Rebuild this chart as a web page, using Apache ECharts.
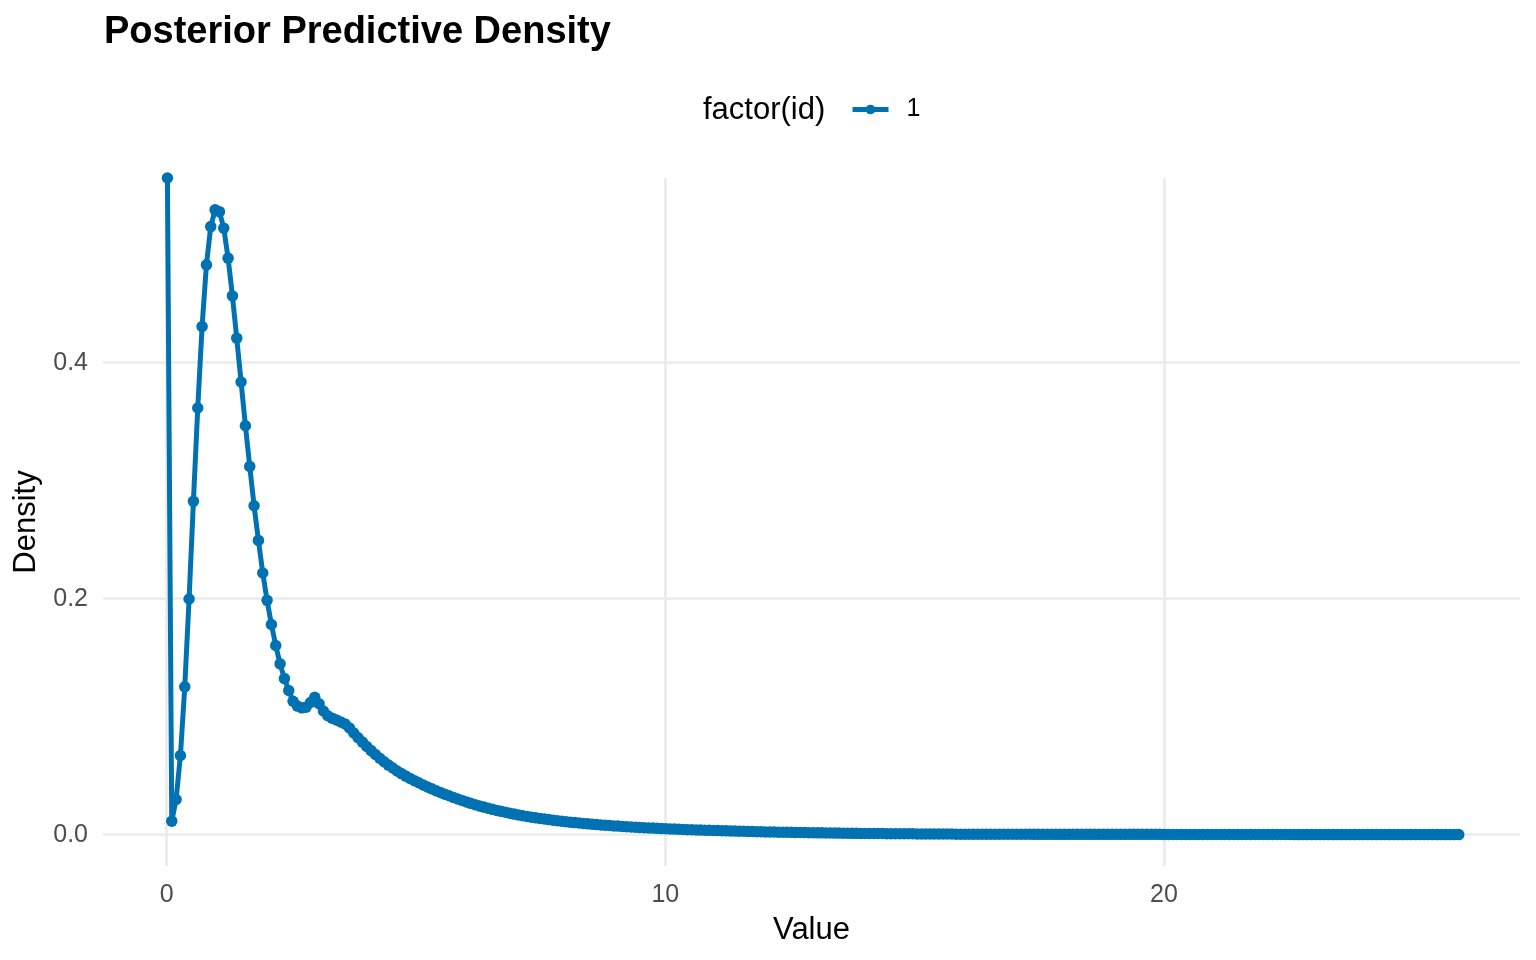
<!DOCTYPE html>
<html>
<head>
<meta charset="utf-8">
<script src="https://cdn.jsdelivr.net/npm/echarts@6/dist/echarts.min.js"></script>
<style>html,body{margin:0;padding:0;background:#fff}#chart{width:1536px;height:960px}</style>
</head>
<body>
<div id="chart"></div>
<script>
// Evaluation grid of the density (evenly spaced sample positions)
const X_START = 0.015;
const X_STEP = 0.0869;
// Density values (first value is Inf, drawn at the panel top edge)
const densityHead = [
  0.5565, 0.0115, 0.0299, 0.0671, 0.1253, 0.1998, 0.2825, 0.3616, 0.4307, 0.4829,
  0.5153, 0.5295, 0.5280, 0.5140, 0.4886, 0.4566, 0.4208, 0.3836, 0.3466, 0.3121,
  0.2788, 0.2494, 0.2218, 0.1986, 0.1781, 0.1603, 0.1448, 0.1323, 0.1222, 0.1131,
  0.1090, 0.1075, 0.1080, 0.1120, 0.1165, 0.1110, 0.1048, 0.1008, 0.0988, 0.0972,
  0.0955, 0.0938, 0.0905, 0.0862, 0.0822, 0.0785, 0.0748, 0.0713, 0.0680, 0.0648,
  0.0618, 0.0590, 0.0565, 0.0540, 0.0518, 0.0497, 0.0477, 0.0458, 0.0440, 0.0422,
  0.0405, 0.0389, 0.0373, 0.0358, 0.0344, 0.0330, 0.0316, 0.0303, 0.0290, 0.0278,
  0.0266, 0.0255, 0.0244, 0.0234, 0.0224, 0.0215, 0.0206, 0.0198, 0.0190, 0.0182,
  0.0175, 0.0168, 0.0161, 0.0155, 0.0149, 0.0143, 0.0138, 0.0133, 0.0128, 0.0123,
  0.0118, 0.0114, 0.0110, 0.0106, 0.0103, 0.0099, 0.0096, 0.0092, 0.0089, 0.0086
];
const densityMid = [
  0.0083, 0.0080, 0.0078, 0.0075, 0.0073, 0.0070, 0.0068, 0.0066, 0.0064, 0.0062,
  0.0060, 0.0058, 0.0056, 0.0054, 0.0052, 0.0051, 0.0049, 0.0048, 0.0046, 0.0045,
  0.0043, 0.0042, 0.0041, 0.0039, 0.0038, 0.0037, 0.0036, 0.0035, 0.0034, 0.0033,
  0.0032, 0.0031, 0.0030, 0.0029, 0.0028, 0.0027, 0.0026, 0.0025, 0.0024, 0.0024,
  0.0023, 0.0022, 0.0021, 0.0021, 0.0020, 0.0019, 0.0019, 0.0018, 0.0017, 0.0017,
  0.0016, 0.0016, 0.0015, 0.0015, 0.0014, 0.0014, 0.0013, 0.0013, 0.0012, 0.0012,
  0.0011, 0.0011, 0.0011, 0.0010, 0.0010, 0.0010, 0.0009, 0.0009, 0.0009, 0.0008,
  0.0008, 0.0008, 0.0008, 0.0007, 0.0007, 0.0007, 0.0007, 0.0006, 0.0006, 0.0006,
  0.0006, 0.0006, 0.0005, 0.0005, 0.0005, 0.0005, 0.0005, 0.0005, 0.0004, 0.0004,
  0.0004, 0.0004, 0.0004, 0.0004, 0.0004, 0.0004, 0.0004, 0.0004, 0.0004, 0.0004
];
const densityTail = [
  0.0003, 0.0003, 0.0003, 0.0003, 0.0003, 0.0003, 0.0003, 0.0003, 0.0003, 0.0003,
  0.0003, 0.0003, 0.0003, 0.0003, 0.0003, 0.0003, 0.0003, 0.0003, 0.0003, 0.0003,
  0.0003, 0.0003, 0.0003, 0.0003, 0.0003, 0.0003, 0.0003, 0.0003, 0.0003, 0.0003,
  0.0002, 0.0002, 0.0002, 0.0002, 0.0002, 0.0002, 0.0002, 0.0002, 0.0002, 0.0002,
  0.0002, 0.0002, 0.0002, 0.0002, 0.0002, 0.0002, 0.0002, 0.0002, 0.0002, 0.0002,
  0.0002, 0.0002, 0.0002, 0.0002, 0.0002, 0.0002, 0.0002, 0.0002, 0.0002, 0.0002,
  0.0001, 0.0001, 0.0001, 0.0001, 0.0001, 0.0001, 0.0001, 0.0001, 0.0001, 0.0001,
  0.0001, 0.0001, 0.0001, 0.0001, 0.0001, 0.0001, 0.0001, 0.0001, 0.0001, 0.0001,
  0.0001, 0.0001, 0.0001, 0.0001, 0.0001, 0.0001, 0.0001, 0.0001, 0.0001, 0.0001,
  0.0001, 0.0001, 0.0001, 0.0001, 0.0001, 0.0001, 0.0001, 0.0001, 0.0001
];
const xTicks = [0, 10, 20];
const yTicks = [0, 0.2, 0.4];
const seriesName = '1';

const densityValues = densityHead.concat(densityMid, densityTail);
const points = densityValues.map((y, i) => [X_START + i * X_STEP, y]);

const FONT = 'Liberation Sans, Arial, sans-serif';
const BLUE = '#0072B2';
const chart = echarts.init(document.getElementById('chart'));
chart.setOption({
  animation: false,
  backgroundColor: '#ffffff',
  textStyle: { fontFamily: FONT },
  title: [
    { text: 'Posterior Predictive Density', left: 104, top: 14, padding: 0,
      textStyle: { fontFamily: FONT, fontSize: 38, fontWeight: 'bold', color: '#000' } },
    { text: 'factor(id)', left: 703, top: 95, padding: 0,
      textStyle: { fontFamily: FONT, fontSize: 31, fontWeight: 'normal', color: '#000' } }
  ],
  legend: {
    left: 850, top: 97, padding: 0, itemWidth: 36, itemHeight: 12,
    data: [seriesName],
    lineStyle: { width: 5 },
    textStyle: { fontFamily: FONT, fontSize: 25, color: '#000', padding: [0, 0, 0, 13] }
  },
  grid: { left: 103, right: 16, top: 178, bottom: 94, containLabel: false },
  xAxis: {
    type: 'value', min: -1.277, max: 27.14,
    axisLine: { show: false, onZero: false },
    axisTick: { show: false, customValues: xTicks },
    axisLabel: { customValues: xTicks, fontSize: 25, color: '#4D4D4D', margin: 17, fontFamily: FONT },
    splitLine: { show: true, lineStyle: { color: '#EBEBEB', width: 2.7 } },
    name: 'Value', nameLocation: 'middle', nameGap: 49,
    nameTextStyle: { fontSize: 31, color: '#000', fontFamily: FONT }
  },
  yAxis: {
    type: 'value', min: -0.0265, max: 0.5565,
    axisLine: { show: false },
    axisTick: { show: false, customValues: yTicks },
    axisLabel: { customValues: yTicks, fontSize: 25, color: '#4D4D4D', margin: 15, fontFamily: FONT,
      formatter: v => v.toFixed(1) },
    splitLine: { show: true, lineStyle: { color: '#EBEBEB', width: 2.7 } },
    name: 'Density', nameLocation: 'middle', nameGap: 47, nameRotate: 90,
    nameTextStyle: { fontSize: 31, color: '#000', fontFamily: FONT }
  },
  series: [{
    name: seriesName, type: 'line', data: points,
    symbol: 'circle', symbolSize: 11.5, showSymbol: true, showAllSymbol: true,
    color: BLUE,
    lineStyle: { color: BLUE, width: 5 },
    itemStyle: { color: BLUE },
    clip: true
  }]
});
</script>
</body>
</html>
